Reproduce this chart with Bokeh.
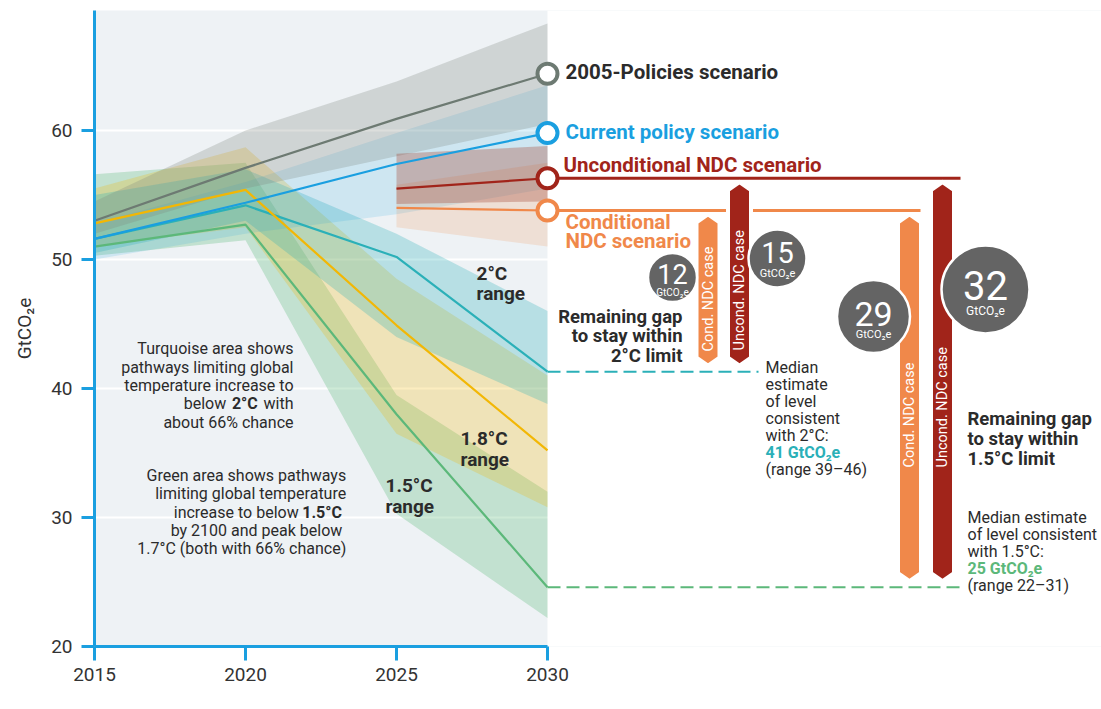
from bokeh.plotting import figure
from bokeh.models import Range1d, FixedTicker, BoxAnnotation
from bokeh.core.properties import value
from bokeh.embed import file_html
from bokeh.resources import INLINE
import math

# ---------------- data ----------------
years = [2015, 2020, 2025, 2030]
ndc_years = [2025, 2030]

policies_2005 = [53.0, 57.1, 60.9, 64.4]
policies_2005_lo = [52.0, 55.5, 58.0, 60.5]
policies_2005_hi = [54.5, 60.0, 63.8, 68.3]

current_policy = [51.6, 54.4, 57.4, 59.8]
current_policy_lo = [50.0, 52.0, 53.5, 55.5]
current_policy_hi = [52.8, 56.0, 59.8, 63.5]

uncond_ndc = [55.5, 56.3]
uncond_ndc_lo = [54.3, 54.5]
uncond_ndc_hi = [58.2, 58.8]

cond_ndc = [54.0, 53.8]
cond_ndc_lo = [52.5, 51.0]
cond_ndc_hi = [55.8, 57.5]

path_2c = [51.6, 54.2, 50.2, 41.3]
path_2c_lo = [50.5, 53.0, 44.0, 38.8]
path_2c_hi = [55.0, 57.0, 52.0, 46.0]

path_18c = [52.8, 55.4, 44.9, 35.2]
path_18c_lo = [51.0, 52.5, 36.5, 30.8]
path_18c_hi = [55.5, 58.7, 48.5, 41.0]

path_15c = [51.0, 52.7, 38.0, 24.6]
path_15c_lo = [50.3, 51.5, 30.3, 22.2]
path_15c_hi = [56.6, 57.5, 39.5, 32.0]

gap_labels = ["12", "15", "29", "32"]
x_ticks = [2015, 2020, 2025, 2030]
y_ticks = [20, 30, 40, 50, 60]

# ---------------- style ----------------
GREY = "#6d7a72"
BLUE = "#1a9fe0"
DRED = "#a1241a"
ORANGE = "#f0884a"
YELLOW = "#f2b705"
TEAL = "#2bb0b8"
GREEN = "#5cb87a"
TXT = "#2b2b2b"
FONT = value("Roboto")

PX_PER_YEAR = 30.2
PX_PER_UNIT = 12.9
X0_PX, Y0_PX = 94, 646


def X(px):
    return 2015 + (px - X0_PX) / PX_PER_YEAR


def Y(py):
    return 20 + (Y0_PX - py) / PX_PER_UNIT


p = figure(width=1101, height=709,
           x_range=Range1d(2015, X(1101)), y_range=Range1d(20, Y(10)),
           output_backend="svg", toolbar_location=None,
           min_border_left=94, min_border_right=0, min_border_top=10, min_border_bottom=63)
p.background_fill_color = "#eef2f5"
p.border_fill_color = "white"
p.outline_line_color = None

p.add_layout(BoxAnnotation(left=2030, fill_color="white", fill_alpha=1.0,
                           line_color=None, level="underlay"))

p.xgrid.visible = False
p.ygrid.ticker = FixedTicker(ticks=[30, 40, 50, 60])
p.ygrid.grid_line_color = "white"
p.ygrid.grid_line_width = 2

p.xaxis.ticker = FixedTicker(ticks=x_ticks)
p.xaxis.bounds = (2015, 2030)
p.yaxis.ticker = FixedTicker(ticks=y_ticks)
p.yaxis.bounds = (20, Y(10))
for ax in (p.xaxis[0], p.yaxis[0]):
    ax.axis_line_color = BLUE
    ax.axis_line_width = 3
    ax.major_tick_line_color = BLUE
    ax.major_tick_line_width = 3
    ax.major_tick_in = 0
    ax.minor_tick_line_color = None
    ax.major_label_text_font = "Roboto"
    ax.major_label_text_font_size = "19px"
    ax.major_label_text_color = "#333333"
p.xaxis.major_tick_out = 14
p.xaxis.major_label_standoff = 7
p.yaxis.major_tick_out = 13
p.yaxis.major_label_standoff = 9
p.yaxis.axis_label = "GtCO₂e"
p.yaxis.axis_label_text_font = "Roboto"
p.yaxis.axis_label_text_font_size = "19px"
p.yaxis.axis_label_text_font_style = "normal"
p.yaxis.axis_label_text_color = "#333333"
p.yaxis.axis_label_standoff = 12

# ---------------- bands ----------------
p.varea(x=years, y1=path_15c_lo, y2=path_15c_hi, fill_color=GREEN, fill_alpha=0.30)
p.varea(x=years, y1=path_18c_lo, y2=path_18c_hi, fill_color=YELLOW, fill_alpha=0.25)
p.varea(x=years, y1=path_2c_lo, y2=path_2c_hi, fill_color=TEAL, fill_alpha=0.28)
p.varea(x=years, y1=current_policy_lo, y2=current_policy_hi, fill_color=BLUE, fill_alpha=0.15)
p.varea(x=years, y1=policies_2005_lo, y2=policies_2005_hi, fill_color="#7d847f", fill_alpha=0.27)
p.varea(x=ndc_years, y1=cond_ndc_lo, y2=cond_ndc_hi, fill_color=ORANGE, fill_alpha=0.18)
p.varea(x=ndc_years, y1=uncond_ndc_lo, y2=uncond_ndc_hi, fill_color="#a3412e", fill_alpha=0.32)

# ---------------- lines ----------------
p.line(years, path_2c, line_color=TEAL, line_width=2.2)
p.line(years, path_15c, line_color=GREEN, line_width=2.2)
p.line(years, path_18c, line_color=YELLOW, line_width=2.2)
p.line(years, policies_2005, line_color=GREY, line_width=2.2)
p.line(years, current_policy, line_color=BLUE, line_width=2.2)
p.line(ndc_years, uncond_ndc, line_color=DRED, line_width=2.2)
p.line(ndc_years, cond_ndc, line_color=ORANGE, line_width=2.2)

# dashed target levels
p.segment(x0=[2030], y0=[path_2c[-1]], x1=[X(758)], y1=[path_2c[-1]],
          line_color=TEAL, line_width=2, line_dash="13 6")
p.segment(x0=[2030], y0=[path_15c[-1]], x1=[X(962)], y1=[path_15c[-1]],
          line_color=GREEN, line_width=2, line_dash="13 6")

# NDC horizontal extensions
p.segment(x0=[2030, 2030], y0=[uncond_ndc[-1], cond_ndc[-1]],
          x1=[X(960), X(920)], y1=[uncond_ndc[-1], cond_ndc[-1]],
          line_color=[DRED, ORANGE], line_width=3)

# ---------------- gap bars ----------------
bar_cx_px = [707.5, 739, 909, 942]
bar_tops = [cond_ndc[-1], uncond_ndc[-1], cond_ndc[-1], uncond_ndc[-1]]
bar_bottoms = [path_2c[-1], path_2c[-1], path_15c[-1], path_15c[-1]]
bar_colors = [ORANGE, DRED, ORANGE, DRED]
hw = 11.5 / PX_PER_YEAR
tip = 8 / PX_PER_UNIT
xs, ys = [], []
for cx, t, b in zip(bar_cx_px, bar_tops, bar_bottoms):
    c = X(cx)
    tt = t - 4 / PX_PER_UNIT
    bb = b + 6 / PX_PER_UNIT
    xs.append([c - hw, c, c + hw, c + hw, c, c - hw])
    ys.append([tt - tip, tt, tt - tip, bb + tip, bb, bb + tip])
p.patches(xs, ys, fill_color=bar_colors, line_color="white", line_width=4, line_join="miter")

bar_text = ["Cond. NDC case", "Uncond. NDC case", "Cond. NDC case", "Uncond. NDC case"]
bar_text_py = [351, 350, 467, 467]
p.text(x=[X(v) for v in bar_cx_px], y=[Y(v) for v in bar_text_py], text=bar_text,
       angle=math.pi / 2, text_align="left", text_baseline="middle",
       text_font=FONT, text_font_size="14.5px", text_color="white")

# scenario end markers
p.scatter(x=[2030] * 4,
          y=[policies_2005[-1], current_policy[-1], uncond_ndc[-1], cond_ndc[-1]],
          marker="circle", size=20, fill_color="white", fill_alpha=1.0,
          line_color=[GREY, BLUE, DRED, ORANGE], line_width=4)

# ---------------- gap circles ----------------
circ_px = [672, 777, 873, 985]
circ_py = [277, 258, 316, 289]
circ_d = [49, 58, 73, 88]
p.scatter(x=[X(v) for v in circ_px], y=[Y(v) for v in circ_py], size=circ_d,
          marker="circle", fill_color="#646464", line_color="white", line_width=2.5)
num_sizes = [27, 29, 34, 40]
num_dy = [-4, -6, -3, -4]
sub_sizes = [10, 11, 11, 12]
sub_dy = [15, 15, 18, 21]
for i, lab in enumerate(gap_labels):
    p.text(x=[X(circ_px[i])], y=[Y(circ_py[i] + num_dy[i])], text=[lab],
           text_align="center", text_baseline="middle", text_font=FONT,
           text_font_size=f"{num_sizes[i]}px", text_color="white")
    p.text(x=[X(circ_px[i])], y=[Y(circ_py[i] + sub_dy[i])], text=["GtCO₂e"],
           text_align="center", text_baseline="middle", text_font=FONT,
           text_font_size=f"{sub_sizes[i]}px", text_color="white")


# ---------------- texts ----------------
def txt(px_list, py_list, texts, size, color, align="left", bold=False):
    p.text(x=[X(v) for v in px_list], y=[Y(v) for v in py_list], text=texts,
           text_align=align, text_baseline="middle", text_font=FONT,
           text_font_size=f"{size}px", text_color=color,
           text_font_style="bold" if bold else "normal")


txt([565], [71], ["2005-Policies scenario"], 20.5, TXT, bold=True)
txt([565], [131], ["Current policy scenario"], 20.5, BLUE, bold=True)
txt([563], [164], ["Unconditional NDC scenario"], 20.5, DRED, bold=True)
txt([565, 565], [221, 240], ["Conditional", "NDC scenario"], 20.5, ORANGE, bold=True)

txt([682] * 3, [316, 335, 355], ["Remaining gap", "to stay within", "2°C limit"], 18.5, TXT,
    align="right", bold=True)
txt([967] * 3, [418, 438, 458], ["Remaining gap", "to stay within", "1.5°C limit"], 18.5, TXT,
    bold=True)

txt([765] * 5, [367, 384, 401, 418, 435],
    ["Median", "estimate", "of level", "consistent", "with 2°C:"], 16, TXT)
txt([765], [452], ["41 GtCO₂e"], 16, TEAL, bold=True)
txt([765], [469], ["(range 39–46)"], 16, TXT)

txt([967] * 3, [517, 534, 551], ["Median estimate", "of level consistent", "with 1.5°C:"], 16, TXT)
txt([967], [568], ["25 GtCO₂e"], 16, GREEN, bold=True)
txt([967], [585], ["(range 22–31)"], 16, TXT)

txt([476, 476], [273, 293], ["2°C", "range"], 19, TXT, bold=True)
txt([460, 460], [438, 459], ["1.8°C", "range"], 19, TXT, bold=True)
txt([385, 385], [485, 506], ["1.5°C", "range"], 19, TXT, bold=True)

txt([293] * 3, [348, 366.5, 385],
    ["Turquoise area shows", "pathways limiting global", "temperature increase to"], 16, TXT,
    align="right")
txt([225.7], [403.3], ["below"], 16, TXT, align="right")
txt([231.4], [403.3], ["2°C"], 16, TXT, bold=True)
txt([293], [403.3], ["with"], 16, TXT, align="right")
txt([293], [421.7], ["about 66% chance"], 16, TXT, align="right")

txt([345.7] * 2, [475, 493.3], ["Green area shows pathways", "limiting global temperature"], 16, TXT,
    align="right")
txt([298.2], [511.7], ["increase to below"], 16, TXT, align="right")
txt([301.8], [511.7], ["1.5°C"], 16, TXT, bold=True)
txt([341.8], [530], ["by 2100 and peak below"], 16, TXT, align="right")
txt([345.7], [548.3], ["1.7°C (both with 66% chance)"], 16, TXT, align="right")

open("out.html", "w").write(file_html(p, INLINE))
